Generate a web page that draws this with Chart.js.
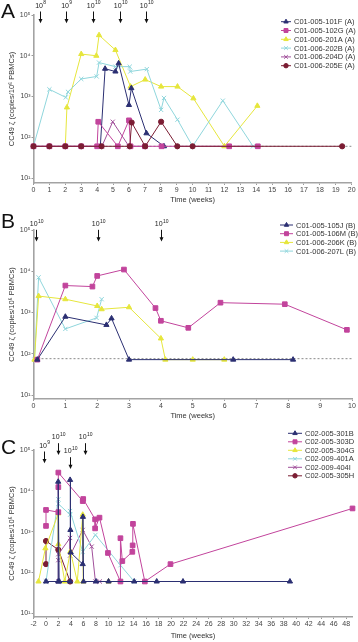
<!doctype html>
<html lang="en">
<head>
<meta charset="utf-8">
<title>CC49 zeta copies over time</title>
<script src="https://cdn.jsdelivr.net/npm/chart.js"></script>
<style>
  body { margin: 0; background: #fff; }
  .wrap { position: relative; width: 358px; height: 642px; overflow: hidden; font-family: "Liberation Sans", Arial, sans-serif; }
  canvas { position: absolute; left: 0; }
  .tag { position: absolute; left: 1px; font-size: 21px; line-height: 21px; color: #111; }
</style>
</head>
<body>
<div class="wrap">
  <canvas id="chartA" width="358" height="206" style="top:0"></canvas>
  <canvas id="chartB" width="358" height="216" style="top:206px"></canvas>
  <canvas id="chartC" width="358" height="220" style="top:422px"></canvas>
  <div class="tag" style="top:0">A</div>
  <div class="tag" style="top:210px">B</div>
  <div class="tag" style="top:436px">C</div>
</div>
<script>
// ---- data (weeks, copies per 10^6 PBMCs) ----
const labelsA = ['C01-005-101F (A)', 'C01-005-102G (A)', 'C01-006-201A (A)', 'C01-006-202B (A)', 'C01-006-204D (A)', 'C01-006-205E (A)'];
const a101F = [[4.2, 60], [4.5, 4800], [5.15, 4100], [5.35, 6500], [6.0, 620], [6.15, 1600], [7.1, 125], [8.2, 60]];
const a102G = [[0, 60], [1, 60], [2, 60], [3, 60], [4, 60], [4.07, 240], [5.3, 60], [6.0, 260], [6.1, 60], [7, 60], [8.05, 60], [12.3, 60], [14.1, 60]];
const a201A = [[2, 60], [2.1, 540], [3, 11000], [3.95, 10000], [4.12, 32000], [5.15, 13800], [6.1, 1750], [7.02, 2600], [8.02, 1750], [9.05, 1750], [10.05, 900], [12, 60], [14.07, 590]];
const a202B = [[0, 60], [1, 1500], [2.03, 950], [2.17, 1300], [3, 2700], [3.97, 3100], [4.12, 6800], [5.15, 5400], [6.05, 5400], [6.08, 4100], [7.12, 4700], [8.02, 470], [8.2, 920], [9.05, 270], [10, 60], [11.9, 790], [13.8, 60]];
const a204D = [[0, 60], [1, 60], [2, 60], [3, 60], [4.3, 60], [4.98, 240], [6.0, 60], [7, 60]];
const a205E = [[0, 60], [1, 60], [2, 60], [3, 60], [4.28, 60], [6.05, 60], [6.17, 230], [7.02, 60], [8.02, 240], [9.04, 60], [10, 60], [19.4, 60]];
const doseWeeksA = [0.41, 2.07, 3.73, 5.42, 7.04];
const doseExpA = [8, 9, 10, 10, 10];

const labelsB = ['C01-005-105J (B)', 'C01-005-106M (B)', 'C01-006-206K (B)', 'C01-006-207L (B)'];
const b105J = [[0.12, 72], [1, 790], [2.29, 500], [2.45, 720], [3, 72], [6.27, 72], [8.15, 72]];
const b106M = [[0.12, 72], [1, 4500], [1.85, 4250], [2, 7700], [2.84, 11000], [3.83, 1280], [4, 630], [4.86, 425], [5.87, 1730], [7.89, 1590], [9.84, 380]];
const b206K = [[0.03, 72], [0.16, 2500], [1, 2100], [2, 1440], [2.14, 1200], [3, 1340], [4, 235], [4.14, 72], [5, 72], [5.99, 72]];
const b207L = [[0.03, 72], [0.16, 7100], [1, 400], [1.98, 740], [2.14, 2100]];
const doseWeeksB = [0.07, 2.03, 4.0];
const doseExpB = [10, 10, 10];

const labelsC = ['C02-005-301B', 'C02-005-303D', 'C02-005-304G', 'C02-009-401A', 'C02-009-404I', 'C02-005-305H'];
const c301B = [[0, 60], [1.95, 60], [1.95, 16700], [2.1, 60], [3.85, 60], [3.85, 18500], [3.9, 1100], [3.95, 310], [5.87, 160], [5.9, 2300], [6, 60], [8, 60], [10, 60], [14.1, 60], [17.7, 60], [21.9, 60], [39, 60]];
const c303D = [[0, 1380], [0, 3400], [1.97, 3000], [1.97, 12300], [1.97, 28000], [5.87, 5600], [5.95, 6300], [7.85, 2000], [7.85, 1200], [8.55, 2200], [9.9, 300], [11.9, 60], [11.9, 690], [12.2, 190], [13.8, 320], [13.85, 460], [13.9, 1550], [15.8, 60], [19.9, 160], [49, 3700]];
const c304G = [[-1.2, 60], [-0.1, 390], [1.97, 2800], [1.97, 490], [3, 60], [3.9, 330], [5, 60], [5.87, 2600], [5.95, 60], [10, 60]];
const c401A = [[0, 60], [1.97, 6200], [1.97, 4800], [3.85, 2600], [3.85, 3200], [5.87, 320], [7.9, 830], [11.9, 150], [14.1, 60]];
const c404I = [[0, 60], [1.97, 60], [1.97, 200], [1.97, 280], [3.85, 700], [3.85, 260], [5.87, 1100], [7.3, 430], [7.9, 60], [8.6, 60]];
const c305H = [[0, 160], [0, 590], [1.97, 360], [3.85, 60]];
const doseWeeksC = [-0.38, 1.88, 3.76, 6.18];
const doseExpC = [9, 10, 10, 10];

const weeksA = [0, 1, 2, 3, 4, 5, 6, 7, 8, 9, 10, 11, 12, 13, 14, 15, 16, 17, 18, 19, 20];
const weeksB = [0, 1, 2, 3, 4, 5, 6, 7, 8, 9, 10];
const weeksC = [-2, 0, 2, 4, 6, 8, 10, 12, 14, 16, 18, 20, 22, 24, 26, 28, 30, 32, 34, 36, 38, 40, 42, 44, 46, 48];
const decades = [10, 100, 1000, 10000, 100000];

// ---- styles ----
const colors = ['#2b2f72', '#c2449c', '#e6e63c', '#8fd6dc', '#a1509b', '#7b1d33'];
const markers = ['triangle', 'rect', 'triangle', 'crossRot', 'crossRot', 'circle'];
const radii = [3, 3.3, 3, 3, 3, 2.6];
const FONT = '"Liberation Sans", Arial, sans-serif';
const sup = ['⁰', '¹', '²', '³', '⁴', '⁵', '⁶', '⁷', '⁸', '⁹'];

function panel(id, cfg) {
  const datasets = cfg.series.map((pts, i) => ({
    label: cfg.labels[i],
    data: pts.map(p => ({ x: p[0], y: p[1] })),
    borderColor: colors[i],
    backgroundColor: colors[i],
    pointStyle: markers[i],
    pointRadius: radii[i],
    pointBorderWidth: 1,
    borderWidth: 1,
    tension: 0,
    clip: false,
    order: cfg.order ? cfg.order[i] : i
  }));
  if (cfg.baseline) {
    datasets.push({
      label: '', data: [{ x: cfg.xMin, y: cfg.baseline }, { x: cfg.xMax, y: cfg.baseline }],
      borderColor: '#8a8a8a', borderDash: [2, 2], borderWidth: 1, pointRadius: 0, order: 99
    });
  }

  // legend drawn on the canvas, top right
  const sideLegend = {
    id: 'sideLegend',
    afterDraw(chart) {
      const ctx = chart.ctx, L = cfg.legend;
      ctx.save();
      ctx.font = '7.5px ' + FONT;
      ctx.textBaseline = 'middle';
      cfg.labels.forEach((lab, i) => {
        const y = L.y + i * L.step;
        ctx.strokeStyle = colors[i];
        ctx.lineWidth = 1;
        ctx.beginPath();
        ctx.moveTo(L.x0, y);
        ctx.lineTo(L.x1, y);
        ctx.stroke();
        ctx.fillStyle = colors[i];
        Chart.helpers.drawPoint(ctx, { pointStyle: markers[i], radius: radii[i] * 0.85, rotation: 0, borderWidth: 1 }, (L.x0 + L.x1) / 2, y);
        ctx.fillStyle = '#333';
        ctx.fillText(lab, L.tx, y + 0.5);
      });
      ctx.restore();
    }
  };

  // dose arrows along the top
  const doses = {
    id: 'doses',
    afterDraw(chart) {
      const ctx = chart.ctx, xs = chart.scales.x, top = chart.chartArea.top;
      ctx.save();
      cfg.doseWeeks.forEach((w, i) => {
        const x = Math.round(xs.getPixelForValue(w)) + 0.5;
        const ly = top + cfg.doseLift[i];
        ctx.font = '7px ' + FONT;
        const wb = ctx.measureText('10').width;
        ctx.font = '5px ' + FONT;
        const e = String(cfg.doseExp[i]);
        const we = ctx.measureText(e).width;
        const sx = x - (wb + we) / 2;
        ctx.fillStyle = '#222';
        ctx.textBaseline = 'alphabetic';
        ctx.font = '7px ' + FONT;
        ctx.fillText('10', sx, ly + 2.5);
        ctx.font = '5px ' + FONT;
        ctx.fillText(e, sx + wb + 0.3, ly - 0.8);
        ctx.strokeStyle = '#111';
        ctx.lineWidth = 1;
        ctx.beginPath();
        ctx.moveTo(x, ly + 6.5);
        ctx.lineTo(x, ly + 15);
        ctx.stroke();
        ctx.beginPath();
        ctx.moveTo(x - 2, ly + 14);
        ctx.lineTo(x + 2, ly + 14);
        ctx.lineTo(x, ly + 18.3);
        ctx.closePath();
        ctx.fillStyle = '#111';
        ctx.fill();
      });
      ctx.restore();
    }
  };

  const axisGrid = { drawOnChartArea: false, drawTicks: true, tickLength: 2, color: '#9a9a9a' };
  const axisBorder = { color: '#a3a3a3', width: 1.6 };

  return new Chart(document.getElementById(id), {
    type: 'line',
    data: { datasets },
    options: {
      responsive: false,
      animation: false,
      layout: { padding: { top: cfg.top, right: cfg.right, left: 0, bottom: 0 } },
      plugins: { legend: { display: false }, tooltip: { enabled: false } },
      scales: {
        x: {
          type: 'linear', min: cfg.xMin, max: cfg.xMax,
          afterBuildTicks: s => { s.ticks = cfg.xTicks.map(v => ({ value: v })); },
          afterFit: s => { s.height = cfg.xAxisH; },
          grid: axisGrid, border: axisBorder,
          ticks: { font: { size: 7, family: FONT }, color: '#444', padding: 1, autoSkip: false, maxRotation: 0, callback: v => String(v) },
          title: { display: true, text: 'Time (weeks)', font: { size: 7.5, family: FONT }, color: '#333', padding: { top: 0, bottom: 2 } }
        },
        y: {
          type: 'logarithmic', min: cfg.yMin, max: 100000,
          afterBuildTicks: s => { s.ticks = decades.map(v => ({ value: v })); },
          afterFit: s => { s.width = 33.5; },
          grid: axisGrid, border: axisBorder,
          ticks: { font: { size: 7, family: FONT }, color: '#444', padding: 1, callback: v => '10' + sup[Math.round(Math.log10(v))] },
          title: { display: true, text: 'CC49 ζ (copies/10⁶ PBMCs)', font: { size: 7.5, family: FONT }, color: '#333', padding: { top: 7, bottom: 0 } }
        }
      }
    },
    plugins: [sideLegend, doses]
  });
}

panel('chartA', {
  labels: labelsA, series: [a101F, a102G, a201A, a202B, a204D, a205E], order: [3, 2, 5, 4, 3.5, 1],
  xMin: 0, xMax: 20, xTicks: weeksA, yMin: 7.54, baseline: 60,
  top: 15, right: 6.3, xAxisH: 23,
  legend: { x0: 281, x1: 291, tx: 294, y: 21.7, step: 8.8 },
  doseWeeks: doseWeeksA, doseExp: doseExpA, doseLift: [-10, -10, -10, -10, -10]
});

panel('chartB', {
  labels: labelsB, series: [b105J, b106M, b206K, b207L],
  xMin: 0, xMax: 10, xTicks: weeksB, yMin: 8.0, baseline: 76,
  top: 24, right: 6, xAxisH: 23,
  legend: { x0: 280, x1: 293, tx: 296, y: 19, step: 8.7 },
  doseWeeks: doseWeeksB, doseExp: doseExpB, doseLift: [-6.7, -6.7, -6.7]
});

panel('chartC', {
  labels: labelsC, series: [c301B, c303D, c304G, c401A, c404I, c305H],
  xMin: -2, xMax: 49, xTicks: weeksC, yMin: 8.1, baseline: null,
  top: 28, right: 5.5, xAxisH: 25,
  legend: { x0: 288, x1: 302, tx: 305, y: 11.3, step: 8.5 },
  doseWeeks: doseWeeksC, doseExp: doseExpC, doseLift: [-5, -13.3, 0.7, -13.3]
});
</script>
</body>
</html>
